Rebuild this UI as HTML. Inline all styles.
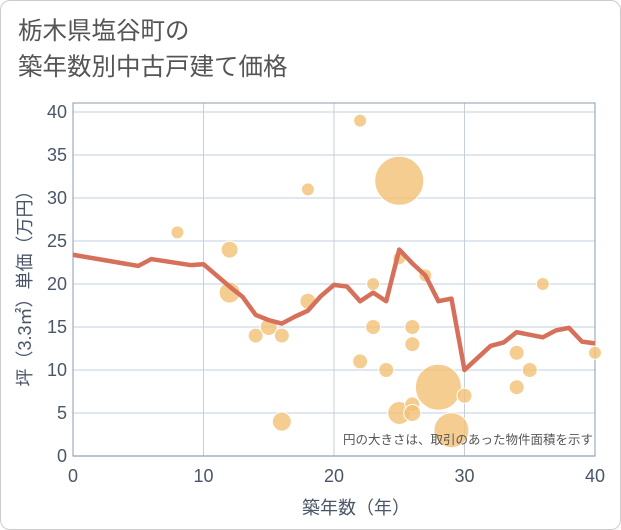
<!DOCTYPE html>
<html><head><meta charset="utf-8"><style>
body{margin:0;background:#fff;font-family:"Liberation Sans","Noto Sans CJK JP",sans-serif;}
#wrap{position:relative;width:619px;height:528px;border:1px solid #ccc;border-radius:10px;overflow:hidden;}
.title{position:absolute;left:17px;color:#555;font-size:24.5px;line-height:1;}
</style></head><body>
<div id="wrap">
<div class="title" style="top:19px">栃木県塩谷町の</div>
<div class="title" style="top:55px">築年数別中古戸建て価格</div>
<svg id="chart" width="621" height="530" style="position:absolute;left:-1px;top:-1px"></svg>
</div>
<script>
const lineYears=[0,5,6,9,10,12,13,14,15,16,17,18,19,20,21,22,23,24,25,26,27,28,29,30,31,32,33,34,36,37,38,39,40];
const linePrices=[23.4,22.1,22.9,22.2,22.3,19.7,18.5,16.4,15.8,15.4,16.2,16.9,18.6,19.9,19.7,18.0,19.0,18.0,24.0,22.4,21.0,18.0,18.3,10.0,11.4,12.8,13.2,14.4,13.8,14.6,14.9,13.3,13.1];
const bubbleYears=[8,12,12,14,15,16,16,18,18,22,22,23,23,24,25,25,25,26,26,26,26,27,28,29,30,34,34,35,36,40];
const bubblePrices=[26,24,19,14,15,14,4,31,18,39,11,20,15,10,32,23,5,15,13,6,5,21,8,3,7,12,8,10,20,12];
const bubbleSizes=[6.5,8.5,10.5,7.5,8.5,7.5,9.5,6.5,8,6.5,7.5,6.5,7.5,7.5,24.5,6.5,11.5,7.5,7.5,7.5,8.5,6.5,23,17.5,7.5,7.5,7.5,7.5,6.5,6.5];
const xTicks=[0,10,20,30,40];
const yTicks=[0,5,10,15,20,25,30,35,40];
const L=73,R=595,T=103,B=456;
const xs=v=>L+(v/40)*(R-L);
const ys=v=>B-(v/40)*(456-112);
const svg=document.getElementById('chart');
const NS='http://www.w3.org/2000/svg';
function mk(t,a){const e=document.createElementNS(NS,t);for(const k in a)e.setAttribute(k,a[k]);svg.appendChild(e);return e;}
yTicks.forEach(v=>{
 const g=mk('line',{x1:L,x2:R,y1:ys(v),y2:ys(v),stroke:'#d5dfe8','stroke-width':1.5});
 
 
 const t=mk('text',{x:L-6,y:ys(v)+6,'text-anchor':'end','font-size':18,fill:'#4a5668'});t.textContent=v;
 
 
});
xTicks.forEach(v=>{
 const g=mk('line',{x1:xs(v),x2:xs(v),y1:T,y2:B,stroke:'#c5cfdb','stroke-width':1});
 
 
 const t=mk('text',{x:xs(v),y:B+26,'text-anchor':'middle','font-size':18,fill:'#4a5668'});t.textContent=v;
 
 
});
const fr=mk('rect',{x:L,y:T,width:R-L,height:B-T,fill:'none',stroke:'#8a9bb0','stroke-width':1});


bubbleYears.forEach((x,i)=>{
 const c=mk('circle',{cx:xs(x),cy:ys(bubblePrices[i]),r:bubbleSizes[i],fill:'#f3c176','fill-opacity':0.8,stroke:'#fff','stroke-width':1});
 
 
});
const p=mk('polyline',{points:lineYears.map((x,i)=>xs(x)+','+ys(linePrices[i])).join(' '),fill:'none',stroke:'#d6705b','stroke-width':4.5,'stroke-linejoin':'round'});


const note=mk('text',{x:593,y:444,'text-anchor':'end','font-size':12.5,fill:'#555'});note.textContent='円の大きさは、取引のあった物件面積を示す';


const xt=mk('text',{x:356,y:514,'text-anchor':'middle','font-size':18,fill:'#4a5668'});xt.textContent='築年数（年）';


const yt=mk('text',{x:0,y:0,'text-anchor':'middle','font-size':18,fill:'#4a5668',transform:'translate(31,284) rotate(-90)'});yt.textContent='坪（3.3㎡）単価（万円）';


</script>
</body></html>
